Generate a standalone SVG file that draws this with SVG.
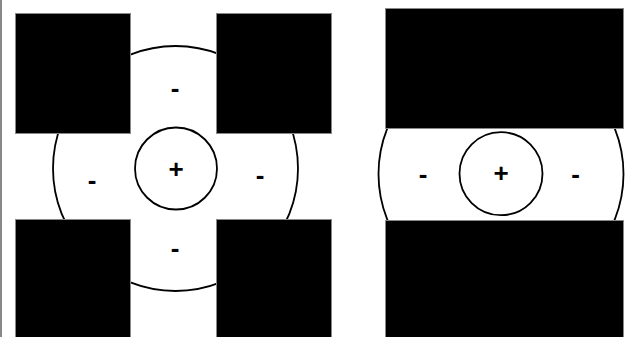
<svg xmlns="http://www.w3.org/2000/svg" width="629" height="337" viewBox="0 0 629 337">
<style>
.blk{fill:#000;stroke:#888;stroke-width:1}
.ring{fill:none;stroke:#000;stroke-width:1.8}
.lbl{font-family:"Liberation Sans",Arial,sans-serif;font-weight:bold;font-size:26px;text-anchor:middle;fill:#000}
</style>
<rect width="629" height="337" fill="#fff"/>
<line x1="1" y1="0" x2="1" y2="337" stroke="#888" stroke-width="2"/>
<g id="left-panel">
  <g id="left-outer-circle"><circle class="ring" cx="175.5" cy="168.5" r="122.5"/></g>
  <g id="left-inner-circle"><circle class="ring" cx="176" cy="168.5" r="41"/><text class="lbl" x="176" y="177.5">+</text></g>
  <g id="left-sq-tl"><rect class="blk" x="15.5" y="13.5" width="115" height="120"/></g>
  <g id="left-sq-tr"><rect class="blk" x="216.5" y="13.5" width="115" height="120"/></g>
  <g id="left-sq-bl"><rect class="blk" x="15.5" y="219.5" width="115" height="125"/></g>
  <g id="left-sq-br"><rect class="blk" x="216.5" y="219.5" width="115" height="125"/></g>
  <text class="lbl" x="175" y="97">-</text>
  <text class="lbl" x="92" y="188.5">-</text>
  <text class="lbl" x="260" y="184">-</text>
  <text class="lbl" x="175" y="257">-</text>
</g>
<g id="right-panel">
  <g id="right-outer-circle"><circle class="ring" cx="501" cy="174" r="122.5"/></g>
  <g id="right-inner-circle"><circle class="ring" cx="501" cy="173.7" r="41.5"/><text class="lbl" x="501" y="181.5">+</text></g>
  <g id="right-rect-top"><rect class="blk" x="385.5" y="8.5" width="238" height="120"/></g>
  <g id="right-rect-bottom"><rect class="blk" x="385.5" y="220.5" width="238" height="125"/></g>
  <text class="lbl" x="423" y="183">-</text>
  <text class="lbl" x="575.5" y="183">-</text>
</g>
</svg>
